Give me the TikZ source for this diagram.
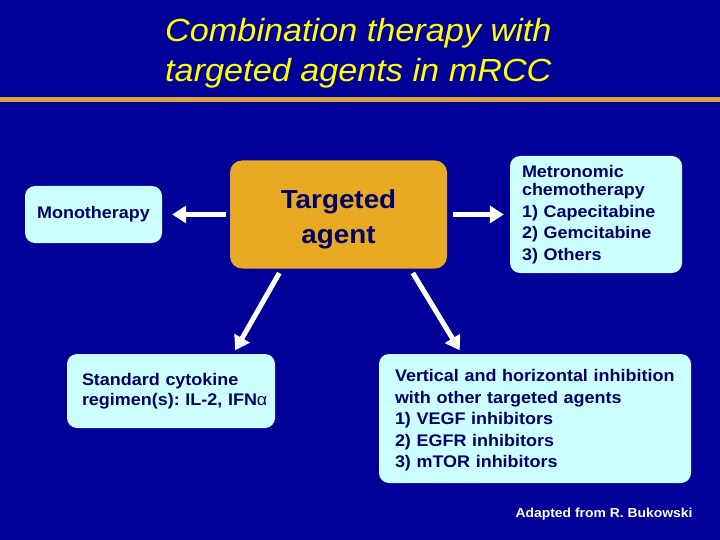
\documentclass[tikz,border=0pt]{standalone}
\usepackage{fontspec}
\setmainfont{Liberation Sans}[FakeStretch=1.07]
\usetikzlibrary{arrows.meta}
\definecolor{slideblue}{HTML}{000098}
\definecolor{rulegold}{HTML}{DCA83A}
\definecolor{agentgold}{HTML}{E8AA22}
\definecolor{boxcyan}{HTML}{CCFFFF}
\definecolor{navytext}{HTML}{000066}
\definecolor{titleyellow}{HTML}{FFFF00}
\newcommand{\boxfont}{\fontsize{16.8}{21.5}\selectfont\bfseries}
\tikzset{
  % light boxes around the central agent
  lightbox/.style={fill=boxcyan, rounded corners=10pt, text=navytext, font=\boxfont,
    align=left, inner sep=0pt},
  % text width is the whole box, the left margin is set by hand
  leftmargin/.style={execute at begin node={\frenchspacing\leftskip=#1\relax}},
  agentbox/.style={fill=agentgold, rounded corners=12pt, text=navytext, align=center,
    font=\fontsize{26}{35}\selectfont\bfseries, inner sep=0pt},
  bigarrow/.style={white, line width=5pt, -{Triangle[width=17pt,length=14pt]}},
}

\begin{document}
\frenchspacing
\begin{tikzpicture}[x=1pt,y=-1pt]

  \fill[slideblue] (0,0) rectangle (720,540);
  \useasboundingbox (0,0) rectangle (720,540);
  \fill[rulegold] (0,97) rectangle (720,102);

  \node[anchor=west, align=left, inner sep=0pt, text=titleyellow,
    font=\fontsize{32}{40}\selectfont\itshape] (title) at (165,53)
    {Combination therapy with\\targeted agents in mRCC};

  \node[agentbox, minimum width=217pt, minimum height=108pt] (agent) at (338.5,214.5)
    {\rule{0pt}{28pt}Targeted\\agent};

  \node[lightbox, align=center, minimum width=137pt, minimum height=57pt] (mono) at (93.5,214.5) {Monotherapy};
  \node[lightbox, text width=172pt, leftmargin=12pt, minimum height=117pt] (meta) at (596,214.5)
    {Metronomic\\[-3pt]chemotherapy\\1) Capecitabine\\2) Gemcitabine\\3) Others};
  \node[lightbox, text width=208pt, leftmargin=15pt, minimum height=74pt] (cyto) at (171,391)
    {Standard cytokine\\[-1.5pt]regimen(s): IL-2, IFN{\mdseries α}};
  \node[lightbox, text width=312pt, leftmargin=16pt, minimum height=129pt] (vert) at (535,418.5)
    {\rule{0pt}{16pt}Vertical and horizontal inhibition\\with other targeted agents\\1) VEGF inhibitors\\2) EGFR inhibitors\\3) mTOR inhibitors};

  \draw[bigarrow, shorten <=4pt, shorten >=10pt] (agent.west) -- (mono.east);
  \draw[bigarrow, shorten <=6pt, shorten >=6pt] (agent.east) -- (meta.west);
  \draw[bigarrow, shorten <=5pt, shorten >=4pt]
    ([xshift=52pt]agent.south west) -- ([xshift=-42pt]cyto.north east);
  \draw[bigarrow, shorten <=5pt, shorten >=4pt]
    ([xshift=-37pt]agent.south east) -- ([xshift=83pt]vert.north west);

  \node[text=white, font=\fontsize{13}{15}\selectfont\bfseries] (credit) at (604,514) {Adapted from R. Bukowski};

\end{tikzpicture}
\end{document}
